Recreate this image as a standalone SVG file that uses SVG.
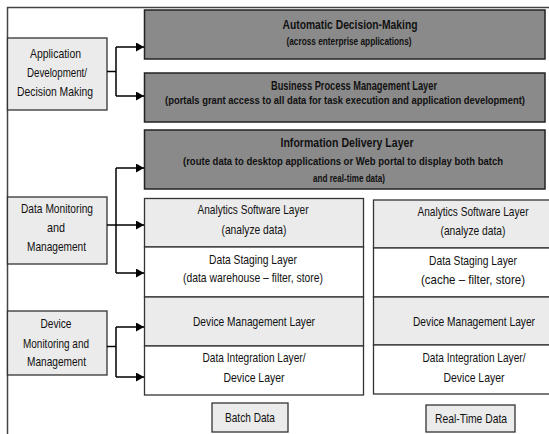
<svg xmlns="http://www.w3.org/2000/svg" width="549" height="434" viewBox="0 0 549 434">
<style>
text{font-family:"Liberation Sans",Arial,sans-serif;fill:#111;text-anchor:middle}
.t{font-size:13px;font-weight:bold}
.s{font-size:11px;font-weight:bold}
.n{font-size:13px}
.dark{fill:#8a8a8a;stroke:#222;stroke-width:1.5}
.lbox{fill:#ebebeb;stroke:#333;stroke-width:1.3}
.row{stroke:#333;stroke-width:1.3}
.g{fill:#ebebeb}
.w{fill:#fff}
.c{fill:none;stroke:#000;stroke-width:1.5}
</style>
<defs>
<marker id="ah" markerWidth="9" markerHeight="9" refX="8" refY="4.5" orient="auto" markerUnits="userSpaceOnUse">
<path d="M0,0 L8,4.5 L0,9 Z" fill="#000"/>
</marker>
</defs>
<rect width="549" height="434" fill="#fff"/>
<g id="frame"><path d="M7.5,434 V7.5 H549" fill="none" stroke="#444" stroke-width="1.5"/></g>

<g id="auto-decision">
<rect class="dark" x="144.5" y="10" width="400.5" height="49"/>
<text class="t" x="350" y="29" textLength="135" lengthAdjust="spacingAndGlyphs">Automatic Decision-Making</text>
<text class="s" x="349" y="45" textLength="125" lengthAdjust="spacingAndGlyphs">(across enterprise applications)</text>
</g>
<g id="bpm">
<rect class="dark" x="144.5" y="73" width="400.5" height="49"/>
<text class="t" x="354" y="90" textLength="166" lengthAdjust="spacingAndGlyphs">Business Process Management Layer</text>
<text class="s" x="345" y="104" textLength="360" lengthAdjust="spacingAndGlyphs">(portals grant access to all data for task execution and application development)</text>
</g>
<g id="info-delivery">
<rect class="dark" x="144.5" y="130" width="400.5" height="59"/>
<text class="t" x="347" y="147" textLength="133" lengthAdjust="spacingAndGlyphs">Information Delivery Layer</text>
<text class="s" x="343" y="165" textLength="320" lengthAdjust="spacingAndGlyphs">(route data to desktop applications or Web portal to display both batch</text>
<text class="s" x="349" y="182" textLength="72" lengthAdjust="spacingAndGlyphs">and real-time data)</text>
</g>

<g id="app-dev">
<rect class="lbox" x="7.5" y="38" width="99.5" height="72"/>
<text class="n" x="55.5" y="58" textLength="51" lengthAdjust="spacingAndGlyphs">Application</text>
<text class="n" x="57" y="77" textLength="60" lengthAdjust="spacingAndGlyphs">Development/</text>
<text class="n" x="55" y="96" textLength="76" lengthAdjust="spacingAndGlyphs">Decision Making</text>
</g>
<g id="data-monitoring">
<rect class="lbox" x="7.5" y="197" width="99.5" height="67"/>
<text class="n" x="57" y="213" textLength="72" lengthAdjust="spacingAndGlyphs">Data Monitoring</text>
<text class="n" x="56" y="232" textLength="18" lengthAdjust="spacingAndGlyphs">and</text>
<text class="n" x="56.5" y="251" textLength="59" lengthAdjust="spacingAndGlyphs">Management</text>
</g>
<g id="device-monitoring">
<rect class="lbox" x="7.5" y="311" width="99.5" height="64"/>
<text class="n" x="56" y="328" textLength="31" lengthAdjust="spacingAndGlyphs">Device</text>
<text class="n" x="56" y="348" textLength="66" lengthAdjust="spacingAndGlyphs">Monitoring and</text>
<text class="n" x="56.5" y="366" textLength="59" lengthAdjust="spacingAndGlyphs">Management</text>
</g>

<g id="batch-stack">
<rect class="row g" x="144.5" y="198.5" width="219" height="48.5"/>
<rect class="row w" x="144.5" y="247" width="219" height="50"/>
<rect class="row g" x="144.5" y="297" width="219" height="49"/>
<rect class="row w" x="144.5" y="346" width="219" height="49"/>
<text class="n" x="253" y="214" textLength="111" lengthAdjust="spacingAndGlyphs">Analytics Software Layer</text>
<text class="n" x="254" y="234" textLength="65" lengthAdjust="spacingAndGlyphs">(analyze data)</text>
<text class="n" x="253" y="264" textLength="88" lengthAdjust="spacingAndGlyphs">Data Staging Layer</text>
<text class="n" x="253" y="282" textLength="140" lengthAdjust="spacingAndGlyphs">(data warehouse – filter, store)</text>
<text class="n" x="254" y="326" textLength="122" lengthAdjust="spacingAndGlyphs">Device Management Layer</text>
<text class="n" x="254" y="362" textLength="103" lengthAdjust="spacingAndGlyphs">Data Integration Layer/</text>
<text class="n" x="254" y="382" textLength="61" lengthAdjust="spacingAndGlyphs">Device Layer</text>
</g>
<g id="realtime-stack">
<rect class="row g" x="373.5" y="200" width="190" height="48"/>
<rect class="row w" x="373.5" y="248" width="190" height="49"/>
<rect class="row g" x="373.5" y="297" width="190" height="48"/>
<rect class="row w" x="373.5" y="345" width="190" height="49"/>
<text class="n" x="473" y="216" textLength="111" lengthAdjust="spacingAndGlyphs">Analytics Software Layer</text>
<text class="n" x="473" y="235" textLength="65" lengthAdjust="spacingAndGlyphs">(analyze data)</text>
<text class="n" x="473" y="265" textLength="88" lengthAdjust="spacingAndGlyphs">Data Staging Layer</text>
<text class="n" x="473" y="284" textLength="104" lengthAdjust="spacingAndGlyphs">(cache – filter, store)</text>
<text class="n" x="474" y="326" textLength="122" lengthAdjust="spacingAndGlyphs">Device Management Layer</text>
<text class="n" x="474" y="362" textLength="103" lengthAdjust="spacingAndGlyphs">Data Integration Layer/</text>
<text class="n" x="474" y="382" textLength="61" lengthAdjust="spacingAndGlyphs">Device Layer</text>
</g>
<g id="batch-data">
<rect class="lbox" x="212" y="403" width="76" height="29"/>
<text class="n" x="250" y="422" textLength="50" lengthAdjust="spacingAndGlyphs">Batch Data</text>
</g>
<g id="realtime-data">
<rect class="lbox" x="426" y="405" width="89" height="27"/>
<text class="n" x="471" y="423" textLength="72" lengthAdjust="spacingAndGlyphs">Real-Time Data</text>
</g>

<g id="connectors">
<path class="c" d="M107,71.5 H116"/>
<path class="c" d="M116,47 V96"/>
<path class="c" d="M116,47 H144" marker-end="url(#ah)"/>
<path class="c" d="M116,96 H144" marker-end="url(#ah)"/>
<path class="c" d="M116,168 V273"/>
<path class="c" d="M116,168 H144" marker-end="url(#ah)"/>
<path class="c" d="M107,225 H144" marker-end="url(#ah)"/>
<path class="c" d="M116,273 H144" marker-end="url(#ah)"/>
<path class="c" d="M107,346.5 H116"/>
<path class="c" d="M116,327 V377"/>
<path class="c" d="M116,327 H144" marker-end="url(#ah)"/>
<path class="c" d="M116,377 H144" marker-end="url(#ah)"/>
</g>
</svg>
